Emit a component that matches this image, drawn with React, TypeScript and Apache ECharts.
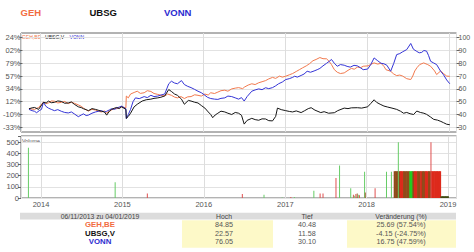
import React, { useEffect, useRef } from "react";
import * as echarts from "echarts";

// ---------- data ----------
const titleNames = ["GEH", "UBSG", "VONN"];
const legendNames = ["GEH,BE", "UBSG,V", "VONN"];
const periodLabel = "06/11/2013 zu 04/01/2019";
const tableHeaders = ["Hoch", "Tief", "Veränderung (%)"];
const tableNames = ["GEH,BE", "UBSG,V", "VONN"];
const tableHigh = ["84.85", "22.57", "76.05"];
const tableLow = ["40.48", "11.58", "30.10"];
const tableChange = ["25.69 (57.54%)", "-4.15 (-24.75%)", "16.75 (47.59%)"];
const leftTickLabels = ["-33%", "-10%", "12%", "34%", "57%", "79%", "02%", "24%"];
const volumeLabel = "Volume";

const gehData: [string, number][] = [
  ["2013-11-06", 44.7], ["2013-11-20", 44.2], ["2013-12-01", 44.0], ["2013-12-19", 45.5], ["2014-01-10", 49.7], ["2014-01-22", 48.6], ["2014-02-01", 49.0], ["2014-02-14", 50.6], ["2014-02-28", 50.4], ["2014-03-15", 49.0], ["2014-03-31", 49.5], ["2014-04-15", 50.2], ["2014-05-01", 48.5], ["2014-05-15", 49.6], ["2014-05-28", 48.8], ["2014-06-15", 47.5], ["2014-06-28", 46.4], ["2014-07-08", 45.0], ["2014-07-20", 43.6], ["2014-07-30", 42.7], ["2014-08-15", 44.0], ["2014-08-31", 43.5], ["2014-09-15", 42.4], ["2014-09-27", 42.0], ["2014-10-10", 42.8], ["2014-10-20", 41.2], ["2014-11-01", 42.5], ["2014-11-11", 43.5], ["2014-11-25", 44.8], ["2014-12-04", 44.5], ["2014-12-15", 45.2], ["2014-12-26", 46.0], ["2015-01-14", 45.2], ["2015-01-16", 54.4], ["2015-01-25", 53.0], ["2015-02-04", 56.0], ["2015-02-20", 57.2], ["2015-03-06", 58.2], ["2015-03-20", 56.5], ["2015-04-06", 57.0], ["2015-04-20", 58.6], ["2015-05-06", 58.0], ["2015-05-20", 56.4], ["2015-06-06", 55.7], ["2015-06-20", 55.0], ["2015-07-07", 54.4], ["2015-07-20", 56.0], ["2015-08-06", 55.0], ["2015-08-20", 53.6], ["2015-09-02", 53.0], ["2015-09-18", 54.0], ["2015-10-03", 52.5], ["2015-10-18", 53.8], ["2015-11-02", 54.0], ["2015-11-18", 55.4], ["2015-12-03", 55.0], ["2015-12-18", 54.4], ["2016-01-03", 56.0], ["2016-01-18", 55.2], ["2016-01-29", 57.0], ["2016-02-15", 56.4], ["2016-03-01", 57.5], ["2016-03-15", 58.6], ["2016-04-01", 59.0], ["2016-04-15", 58.2], ["2016-05-02", 60.0], ["2016-05-18", 60.6], ["2016-06-02", 61.0], ["2016-06-20", 60.2], ["2016-06-29", 61.5], ["2016-07-15", 63.0], ["2016-07-31", 64.0], ["2016-08-15", 63.4], ["2016-08-31", 64.8], ["2016-09-15", 65.6], ["2016-10-01", 66.5], ["2016-10-15", 67.8], ["2016-11-01", 69.0], ["2016-11-15", 68.2], ["2016-12-02", 70.0], ["2016-12-15", 69.2], ["2016-12-30", 69.9], ["2017-01-15", 71.0], ["2017-01-30", 72.0], ["2017-02-15", 73.6], ["2017-03-01", 75.0], ["2017-03-15", 76.4], ["2017-04-01", 78.0], ["2017-04-15", 79.6], ["2017-05-01", 82.0], ["2017-05-15", 83.0], ["2017-06-01", 84.5], ["2017-06-15", 83.6], ["2017-07-01", 83.5], ["2017-07-12", 81.6], ["2017-07-23", 79.0], ["2017-08-05", 75.0], ["2017-08-18", 73.0], ["2017-09-01", 72.0], ["2017-09-18", 72.5], ["2017-10-05", 74.5], ["2017-10-20", 76.0], ["2017-11-02", 75.4], ["2017-11-16", 77.0], ["2017-12-01", 76.6], ["2017-12-12", 77.7], ["2018-01-03", 78.0], ["2018-01-15", 79.2], ["2018-01-30", 80.3], ["2018-02-15", 79.4], ["2018-03-02", 80.0], ["2018-03-15", 77.6], ["2018-03-24", 75.0], ["2018-04-14", 73.8], ["2018-04-28", 71.6], ["2018-05-11", 70.4], ["2018-05-25", 70.8], ["2018-06-07", 70.0], ["2018-06-25", 68.0], ["2018-07-13", 67.3], ["2018-07-22", 70.0], ["2018-07-31", 74.0], ["2018-08-10", 76.6], ["2018-08-22", 79.0], ["2018-09-09", 80.3], ["2018-09-27", 79.0], ["2018-10-10", 77.7], ["2018-10-28", 74.0], ["2018-11-06", 71.2], ["2018-11-24", 74.0], ["2018-12-07", 72.0], ["2018-12-21", 70.0], ["2019-01-04", 69.8],
];

const ubsgData: [string, number][] = [
  ["2013-11-06", 44.5], ["2013-11-20", 45.2], ["2013-12-01", 45.5], ["2013-12-19", 44.0], ["2014-01-10", 49.5], ["2014-01-22", 49.0], ["2014-02-01", 50.5], ["2014-02-14", 49.2], ["2014-02-28", 49.5], ["2014-03-15", 50.6], ["2014-03-31", 50.2], ["2014-04-15", 48.8], ["2014-05-01", 49.0], ["2014-05-15", 49.8], ["2014-05-28", 48.0], ["2014-06-15", 46.0], ["2014-06-28", 45.4], ["2014-07-08", 44.5], ["2014-07-20", 43.8], ["2014-07-30", 43.0], ["2014-08-15", 44.6], ["2014-08-31", 44.0], ["2014-09-15", 43.2], ["2014-09-27", 42.5], ["2014-10-10", 42.0], ["2014-10-20", 39.5], ["2014-11-01", 42.6], ["2014-11-11", 44.0], ["2014-11-25", 45.0], ["2014-12-04", 45.5], ["2014-12-15", 44.6], ["2014-12-26", 46.0], ["2015-01-14", 44.0], ["2015-01-16", 37.0], ["2015-01-25", 38.5], ["2015-02-04", 41.0], ["2015-02-20", 46.0], ["2015-03-06", 48.0], ["2015-03-28", 50.5], ["2015-04-15", 51.5], ["2015-05-06", 52.0], ["2015-05-20", 52.6], ["2015-06-06", 53.0], ["2015-06-20", 53.5], ["2015-07-07", 54.5], ["2015-07-25", 59.5], ["2015-08-06", 58.0], ["2015-08-20", 56.0], ["2015-09-02", 55.0], ["2015-09-20", 52.0], ["2015-10-03", 48.0], ["2015-10-21", 51.0], ["2015-11-02", 50.5], ["2015-11-18", 49.6], ["2015-12-03", 49.0], ["2015-12-18", 47.0], ["2016-01-03", 45.0], ["2016-01-18", 42.0], ["2016-01-29", 40.0], ["2016-02-07", 37.5], ["2016-02-18", 39.6], ["2016-03-01", 41.0], ["2016-03-15", 42.6], ["2016-04-01", 42.0], ["2016-04-15", 41.0], ["2016-05-02", 40.0], ["2016-05-18", 41.6], ["2016-06-02", 41.0], ["2016-06-15", 39.4], ["2016-06-27", 32.5], ["2016-07-10", 35.4], ["2016-07-31", 37.0], ["2016-08-15", 36.0], ["2016-08-31", 35.5], ["2016-09-15", 36.6], ["2016-10-01", 36.5], ["2016-10-15", 35.2], ["2016-11-01", 35.0], ["2016-11-15", 38.5], ["2016-11-23", 45.0], ["2016-12-10", 43.8], ["2016-12-30", 43.0], ["2017-01-15", 42.4], ["2017-01-30", 42.0], ["2017-02-15", 42.8], ["2017-03-09", 41.5], ["2017-03-25", 43.0], ["2017-04-10", 44.6], ["2017-04-23", 45.3], ["2017-05-10", 43.4], ["2017-06-05", 41.5], ["2017-06-20", 42.2], ["2017-07-10", 41.0], ["2017-08-05", 41.4], ["2017-08-20", 43.0], ["2017-09-18", 45.0], ["2017-10-05", 44.6], ["2017-10-20", 45.2], ["2017-11-16", 45.3], ["2017-12-05", 45.0], ["2018-01-01", 46.0], ["2018-01-15", 48.6], ["2018-01-30", 51.5], ["2018-02-10", 49.5], ["2018-02-26", 48.0], ["2018-03-15", 46.6], ["2018-04-01", 45.8], ["2018-04-20", 45.0], ["2018-05-11", 44.0], ["2018-05-28", 42.6], ["2018-06-11", 41.0], ["2018-06-25", 41.6], ["2018-07-10", 40.6], ["2018-07-26", 40.0], ["2018-08-09", 42.7], ["2018-08-25", 41.6], ["2018-09-10", 41.0], ["2018-09-22", 40.1], ["2018-10-10", 38.0], ["2018-10-24", 36.2], ["2018-11-10", 35.6], ["2018-11-25", 34.6], ["2018-12-07", 33.6], ["2018-12-21", 32.4], ["2019-01-04", 32.0],
];

const vonnData: [string, number][] = [
  ["2013-11-06", 44.0], ["2013-11-20", 43.0], ["2013-12-01", 42.5], ["2013-12-10", 41.4], ["2013-12-22", 43.0], ["2014-01-01", 44.0], ["2014-01-10", 49.7], ["2014-01-20", 46.5], ["2014-02-01", 45.0], ["2014-02-14", 44.0], ["2014-02-28", 43.0], ["2014-03-15", 43.8], ["2014-03-31", 42.5], ["2014-04-15", 41.6], ["2014-05-01", 41.2], ["2014-05-15", 42.0], ["2014-05-28", 40.5], ["2014-06-15", 38.3], ["2014-06-28", 39.6], ["2014-07-08", 40.5], ["2014-07-20", 39.2], ["2014-07-30", 39.5], ["2014-08-15", 41.0], ["2014-08-31", 42.0], ["2014-09-15", 42.6], ["2014-09-27", 43.0], ["2014-10-10", 42.0], ["2014-10-20", 42.5], ["2014-11-01", 43.6], ["2014-11-11", 44.5], ["2014-11-25", 44.0], ["2014-12-04", 45.0], ["2014-12-15", 45.8], ["2014-12-26", 46.5], ["2015-01-14", 44.5], ["2015-01-16", 36.8], ["2015-01-25", 40.0], ["2015-02-04", 44.0], ["2015-02-15", 50.0], ["2015-02-26", 53.0], ["2015-03-15", 52.4], ["2015-04-06", 54.0], ["2015-04-20", 53.2], ["2015-05-06", 55.0], ["2015-05-20", 54.0], ["2015-06-06", 54.4], ["2015-06-20", 55.2], ["2015-07-07", 56.0], ["2015-07-16", 60.0], ["2015-07-25", 64.0], ["2015-08-06", 66.0], ["2015-08-20", 64.6], ["2015-09-02", 64.0], ["2015-09-20", 66.5], ["2015-10-03", 63.4], ["2015-10-18", 62.0], ["2015-11-02", 61.0], ["2015-11-18", 59.6], ["2015-12-03", 58.2], ["2015-12-18", 57.0], ["2016-01-03", 55.0], ["2016-01-15", 53.4], ["2016-01-29", 52.5], ["2016-02-15", 52.0], ["2016-03-01", 51.8], ["2016-03-15", 52.6], ["2016-04-01", 53.0], ["2016-04-15", 54.4], ["2016-05-02", 54.0], ["2016-05-18", 53.0], ["2016-06-02", 52.0], ["2016-06-15", 53.2], ["2016-06-27", 50.5], ["2016-07-10", 54.0], ["2016-07-31", 58.2], ["2016-08-15", 59.2], ["2016-08-31", 60.0], ["2016-09-15", 59.4], ["2016-10-01", 60.9], ["2016-10-15", 60.2], ["2016-11-01", 61.0], ["2016-11-15", 62.4], ["2016-11-28", 64.0], ["2016-12-15", 65.4], ["2016-12-30", 67.3], ["2017-01-15", 68.0], ["2017-01-30", 69.0], ["2017-02-08", 69.9], ["2017-02-20", 69.2], ["2017-03-09", 70.5], ["2017-03-22", 71.6], ["2017-04-05", 73.8], ["2017-04-20", 73.0], ["2017-05-06", 74.0], ["2017-05-20", 75.0], ["2017-06-01", 76.0], ["2017-06-15", 78.0], ["2017-07-01", 80.0], ["2017-07-12", 81.4], ["2017-07-23", 83.0], ["2017-08-05", 80.0], ["2017-08-18", 77.7], ["2017-09-01", 79.0], ["2017-09-18", 78.5], ["2017-10-01", 77.6], ["2017-10-15", 77.0], ["2017-11-01", 78.4], ["2017-11-16", 78.0], ["2017-12-01", 76.4], ["2017-12-12", 75.0], ["2018-01-01", 75.5], ["2018-01-15", 79.0], ["2018-01-30", 84.2], ["2018-02-15", 82.0], ["2018-03-02", 80.0], ["2018-03-15", 79.6], ["2018-03-28", 78.5], ["2018-04-14", 73.8], ["2018-04-28", 80.0], ["2018-05-11", 86.8], ["2018-05-25", 87.6], ["2018-06-07", 89.0], ["2018-06-25", 90.7], ["2018-07-13", 95.5], ["2018-07-25", 91.0], ["2018-08-09", 89.3], ["2018-08-20", 88.2], ["2018-08-31", 88.5], ["2018-09-10", 90.0], ["2018-09-22", 89.5], ["2018-10-01", 86.0], ["2018-10-10", 81.6], ["2018-10-22", 80.4], ["2018-11-06", 79.0], ["2018-11-24", 73.8], ["2018-12-07", 71.0], ["2018-12-21", 67.0], ["2019-01-04", 64.0],
];

// volume: isolated thin bars [date, value, kind]
const volSingles: [string, number, string][] = [
  ["2013-11-08", 450, "g"], ["2014-12-01", 140, "g"], ["2015-04-24", 40, "r"], ["2016-06-22", 35, "r"], ["2016-09-27", 30, "g"], ["2016-12-17", 5, "g"], ["2017-01-25", 8, "r"], ["2017-02-10", 10, "g"], ["2017-05-08", 64, "g"], ["2017-06-05", 40, "r"], ["2017-06-18", 40, "r"], ["2017-08-15", 180, "r"], ["2017-08-31", 290, "g"], ["2017-10-20", 88, "g"], ["2017-11-01", 30, "r"], ["2017-11-05", 20, "g"], ["2017-11-12", 35, "r"], ["2017-11-18", 40, "b"], ["2017-11-25", 30, "g"], ["2017-11-28", 25, "r"], ["2017-12-21", 236, "g"], ["2017-12-24", 50, "b"], ["2018-02-06", 88, "r"], ["2018-03-29", 236, "g"], ["2018-04-20", 236, "g"], ["2018-05-21", 500, "g"], ["2018-10-14", 500, "r"],
];

// volume: dense block of weekly bars [date, value, kind]
const volBlock: [string, number, string][] = [
  ["2018-05-07", 240, "b"], ["2018-05-14", 240, "b"], ["2018-05-21", 240, "b"], ["2018-05-28", 240, "b"], ["2018-06-04", 240, "r"], ["2018-06-11", 240, "r"], ["2018-06-18", 240, "b"], ["2018-06-25", 240, "b"], ["2018-07-02", 240, "b"], ["2018-07-09", 240, "b"], ["2018-07-16", 240, "g"], ["2018-07-23", 240, "g"], ["2018-07-30", 240, "b"], ["2018-08-06", 240, "r"], ["2018-08-13", 240, "r"], ["2018-08-20", 240, "b"], ["2018-08-27", 240, "b"], ["2018-09-03", 240, "r"], ["2018-09-10", 240, "b"], ["2018-09-17", 240, "b"], ["2018-09-24", 240, "r"], ["2018-10-01", 240, "r"], ["2018-10-08", 240, "b"], ["2018-10-15", 240, "b"], ["2018-10-22", 240, "r"], ["2018-10-29", 240, "r"], ["2018-11-05", 240, "r"], ["2018-11-12", 240, "r"], ["2018-11-19", 240, "r"], ["2018-11-26", 240, "r"],
  ["2018-12-03", 16, "d"], ["2018-12-10", 16, "d"], ["2018-12-17", 16, "d"], ["2018-12-24", 16, "d"], ["2018-12-31", 16, "d"],
];

// ---------- styles ----------
const FF = "'Liberation Sans', Arial, Helvetica, sans-serif";
const LINE_COLORS = ["#f27a4e", "#161616", "#3434d6"];
const TITLE_COLORS = ["#f26c42", "#111111", "#2c2cd0"];
const THIN_COLORS: Record<string, string> = { g: "#66cc66", r: "#e05050", b: "#9a5a2a" };
const BLOCK_COLORS: Record<string, string> = { g: "#22cc22", r: "#dd2a1c", b: "#904a1a", d: "#3e4a12" };
const X_MIN = "2013-10-08";
const X_MAX = "2019-02-03";

const yearFormatter = (v: number) => {
  const d = new Date(v);
  return d.getMonth() === 0 && d.getDate() <= 2 ? String(d.getFullYear()) : "";
};

function txt(text: string, x: number, y: number, fill: string, size: number, align = "left", weight = "normal") {
  return {
    type: "text",
    x,
    y,
    silent: true,
    style: {
      text,
      fill,
      fontSize: size,
      fontFamily: FF,
      fontWeight: weight,
      align,
      textAlign: align,
      verticalAlign: "middle",
      textVerticalAlign: "middle",
    },
  };
}

export default function App() {
  const ref = useRef<HTMLDivElement>(null);
  useEffect(() => {
    document.body.style.margin = "0";
    if (!ref.current) return;
    const chart = echarts.init(ref.current, undefined, { renderer: "svg" });

    const timeAxisBase = { type: "time", min: X_MIN, max: X_MAX, splitNumber: 5 };
    const hiddenX = (gridIndex: number) => ({
      ...timeAxisBase,
      gridIndex,
      axisLine: { show: false },
      axisTick: { show: false },
      axisLabel: { show: false },
      splitLine: { show: false },
    });

    const graphics: any[] = [];
    const titleX = [20.5, 89.5, 164];
    titleNames.forEach((t, i) => graphics.push(txt(t, titleX[i], 12, TITLE_COLORS[i], 9.5, "left", "bold")));
    const legX = [21.8, 45, 69.5];
    legendNames.forEach((t, i) => graphics.push(txt(t, legX[i], 37.4, LINE_COLORS[i], 5.1)));
    graphics.push(txt(volumeLabel, 22, 141, "#555", 5.4));
    // table
    graphics.push({ type: "rect", silent: true, shape: { x: 20, y: 212.7, width: 436, height: 6.8 }, style: { fill: "#dcdcdc" } });
    graphics.push({ type: "rect", silent: true, shape: { x: 182, y: 220.3, width: 91, height: 27.4 }, style: { fill: "#fdf9c8" } });
    graphics.push({ type: "rect", silent: true, shape: { x: 347, y: 220.3, width: 109, height: 27.4 }, style: { fill: "#fdf9c8" } });
    graphics.push(txt(periodLabel, 100, 216.2, "#444", 6.8, "center"));
    const colX = [224, 307, 401];
    tableHeaders.forEach((h, i) => graphics.push(txt(h, colX[i], 216.2, "#444", 6.8, "center")));
    const rowY = [224.4, 233.1, 241.8];
    tableNames.forEach((n, i) => {
      graphics.push(txt(n, 100, rowY[i], TITLE_COLORS[i], 7.8, "center", "bold"));
      graphics.push(txt(tableHigh[i], colX[0], rowY[i], "#555", 7.2, "center"));
      graphics.push(txt(tableLow[i], colX[1], rowY[i], "#555", 7.2, "center"));
      graphics.push(txt(tableChange[i], colX[2], rowY[i], "#555", 7.2, "center"));
    });

    const option: any = {
      animation: false,
      backgroundColor: "#ffffff",
      textStyle: { fontFamily: FF },
      grid: [
        { left: 21, right: 17.5, top: 37.7, height: 89.6, show: false },
        { left: 21, right: 17.5, top: 33, height: 99, show: true, borderColor: "#666", borderWidth: 1, backgroundColor: "transparent" },
        { left: 21, right: 17.5, top: 136, height: 62, show: true, borderColor: "#666", borderWidth: 1, backgroundColor: "transparent" },
      ],
      xAxis: [
        hiddenX(0),
        {
          ...timeAxisBase,
          gridIndex: 1,
          axisLine: { show: false },
          axisTick: { show: false },
          axisLabel: { show: false },
          splitLine: { show: true, lineStyle: { color: "#dddddd", width: 1 } },
        },
        {
          ...timeAxisBase,
          gridIndex: 2,
          axisLine: { show: false },
          axisTick: { show: false },
          axisLabel: { show: true, formatter: yearFormatter, color: "#555", fontSize: 7.5, fontFamily: FF, margin: 2, showMinLabel: false, showMaxLabel: false },
          splitLine: { show: true, lineStyle: { color: "#dddddd", width: 1 } },
        },
        hiddenX(2),
      ],
      yAxis: [
        {
          type: "value",
          gridIndex: 0,
          position: "left",
          min: 30,
          max: 100,
          interval: 10,
          axisLine: { show: false },
          axisTick: { show: true, length: 3, lineStyle: { color: "#666" } },
          axisLabel: { color: "#555", fontSize: 7.5, fontFamily: FF, margin: 2, formatter: (v: number) => leftTickLabels[Math.round((v - 30) / 10)] ?? "" },
          splitLine: { show: true, lineStyle: { color: "#e2e2e2", width: 1 } },
        },
        {
          type: "value",
          gridIndex: 0,
          position: "right",
          min: 30,
          max: 100,
          interval: 10,
          axisLine: { show: false },
          axisTick: { show: true, length: 3, lineStyle: { color: "#666" } },
          axisLabel: { color: "#555", fontSize: 7, fontFamily: FF, margin: 2 },
          splitLine: { show: false },
        },
        { type: "value", gridIndex: 1, show: false, min: 0, max: 1 },
        {
          type: "value",
          gridIndex: 2,
          position: "left",
          min: 0,
          max: 555,
          interval: 100,
          axisLine: { show: false },
          axisTick: { show: true, length: 3, lineStyle: { color: "#666" } },
          axisLabel: { color: "#555", fontSize: 7.5, fontFamily: FF, margin: 2, formatter: (v: number) => (v % 100 === 0 ? String(v) : "") },
          splitLine: { show: true, lineStyle: { color: "#e2e2e2", width: 1 } },
        },
      ],
      series: [
        { name: legendNames[0], type: "line", xAxisIndex: 0, yAxisIndex: 1, data: gehData, symbol: "none", lineStyle: { width: 1, color: LINE_COLORS[0] }, itemStyle: { color: LINE_COLORS[0] } },
        { name: legendNames[2], type: "line", xAxisIndex: 0, yAxisIndex: 1, data: vonnData, symbol: "none", lineStyle: { width: 1, color: LINE_COLORS[2] }, itemStyle: { color: LINE_COLORS[2] } },
        { name: legendNames[1], type: "line", xAxisIndex: 0, yAxisIndex: 1, data: ubsgData, symbol: "none", lineStyle: { width: 1, color: LINE_COLORS[1] }, itemStyle: { color: LINE_COLORS[1] } },
        {
          type: "bar",
          xAxisIndex: 2,
          yAxisIndex: 3,
          barWidth: 2.2,
          data: volBlock.map(([d, v, k]) => ({ value: [d, v], itemStyle: { color: BLOCK_COLORS[k] } })),
        },
        {
          type: "bar",
          xAxisIndex: 3,
          yAxisIndex: 3,
          barWidth: 1,
          data: volSingles.map(([d, v, k]) => ({ value: [d, v], itemStyle: { color: THIN_COLORS[k] } })),
        },
      ],
      graphic: graphics,
    };
    chart.setOption(option);
    return () => chart.dispose();
  }, []);
  return <div ref={ref} style={{ position: "fixed", left: 0, top: 0, width: 474, height: 252 }} />;
}
